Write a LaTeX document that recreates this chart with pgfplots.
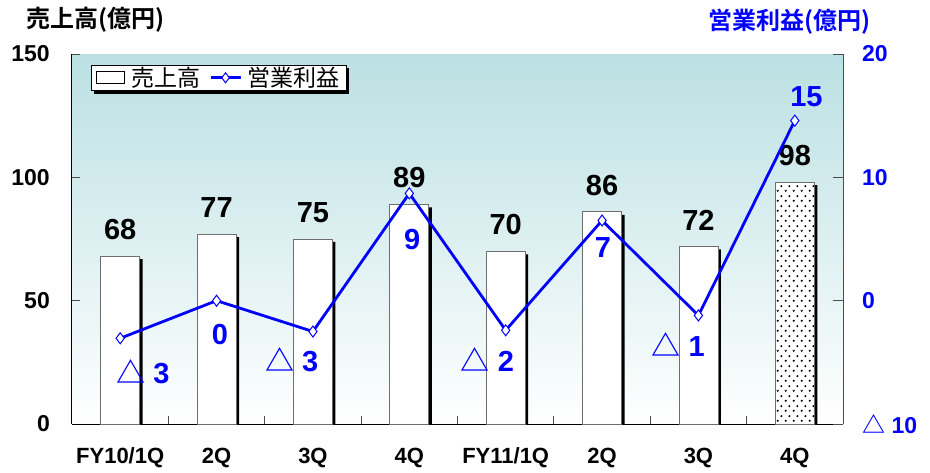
\documentclass[border=0pt]{standalone}
\usepackage{fontspec}
\setmainfont{Liberation Sans}
\newfontfamily\jp{Noto Sans CJK JP}[BoldFont={Noto Sans CJK JP Bold}]
\usepackage{pgfplots}
\pgfplotsset{compat=1.18}
\usetikzlibrary{patterns}

\definecolor{profblue}{RGB}{0,0,255}
\definecolor{bgteal}{RGB}{187,224,227}
\definecolor{bargray}{RGB}{110,110,110}

% staggered dots for the last bar
\pgfdeclarepatternformonly{bardots}{\pgfqpoint{0pt}{0pt}}{\pgfqpoint{8pt}{10pt}}{\pgfqpoint{8pt}{10pt}}{%
  \pgfpathcircle{\pgfqpoint{2pt}{2.5pt}}{1.25pt}%
  \pgfpathcircle{\pgfqpoint{6pt}{7.5pt}}{1.25pt}%
  \pgfusepath{fill}}

\newcommand{\tri}{{\jp △}}
\newcommand{\bignum}{\fontsize{29}{30}\selectfont\bfseries}

\begin{document}
\begin{tikzpicture}
\path[use as bounding box] (-72pt,-48pt) rectangle (858pt,424pt);

% sales (left axis)
\begin{axis}[
    at={(0pt,0pt)}, anchor=south west,
    scale only axis,
    width=771pt, height=370pt,
    xmin=-0.5, xmax=7.5,
    ymin=0, ymax=150,
    axis x line*=bottom,
    axis y line*=left,
    axis line style={line width=1pt},
    axis background/.style={top color=bgteal, bottom color=white},
    tick align=inside,
    major tick length=8pt,
    minor tick length=8pt,
    xtick={0,...,7},
    xticklabels={FY10/1Q,2Q,3Q,4Q,FY11/1Q,2Q,3Q,4Q},
    major x tick style={draw=none},
    minor xtick={0.5,1.5,...,6.5},
    minor x tick style={line width=0.8pt, black!70},
    xticklabel style={font=\fontsize{22}{24}\selectfont\bfseries, inner sep=0pt, anchor=center, yshift=-34pt},
    ytick={0,50,100,150},
    yticklabels={0,50,100,150},
    ytick style={line width=0.8pt, black!70},
    yticklabel style={font=\fontsize{23}{24}\selectfont\bfseries, inner sep=0pt, anchor=east, xshift=-22pt},
    legend columns=2,
    legend cell align=left,
    legend style={name=leg, at={(0.0246,0.9703)}, anchor=north west,
        draw=black, fill=white, line width=0.8pt,
        font=\jp\fontsize{23}{25}\selectfont,
        inner xsep=5pt, inner ysep=1pt,
        nodes={inner sep=1pt},
        /tikz/every odd column/.append style={column sep=5pt},
        /tikz/every even column/.append style={column sep=8pt}},
    clip=false,
]
% legend entries
\addlegendimage{legend image code/.code={%
    \draw[black, fill=white, line width=0.8pt] (0pt,-6pt) rectangle (28pt,6pt);}}
\addlegendentry{売上高}
\addlegendimage{legend image code/.code={%
    \draw[profblue, line width=2.8pt] (0pt,0pt) -- (30pt,0pt);
    \draw[profblue, line width=1pt, fill=white] plot[mark=diamond*, mark size=5pt] coordinates {(15pt,0pt)};}}
\addlegendentry{営業利益}

% bar shadows
\addplot[ybar, bar width=39pt, bar shift=3pt, fill=black, draw=none, forget plot]
    coordinates {(0,66.8) (1,75.8) (2,73.8) (3,87.8) (4,68.8) (5,84.8) (6,70.8) (7,96.8)};
% bars
\addplot[ybar, bar width=39pt, bar shift=0pt, fill=white, draw=bargray, line width=0.8pt, forget plot,
    nodes near coords={\pgfmathprintnumber[assume math mode=true]{\pgfplotspointmeta}},
    every node near coord/.append style={font=\bignum, black, inner sep=0pt, anchor=south, yshift=16pt}]
    coordinates {(0,68) (1,77) (2,75) (3,89) (4,70) (5,86) (6,72) (7,98)};
% dotted last bar
\addplot[ybar, bar width=39pt, bar shift=0pt, draw=bargray, line width=0.8pt, pattern=bardots, pattern color=black, forget plot]
    coordinates {(7,98)};

\node[font=\jp\fontsize{24}{26}\selectfont\bfseries, anchor=center] at (axis cs:-0.26,150) [yshift=34pt] {売上高(億円)};
\end{axis}

% legend shadow (right and bottom strips)
\fill[black] ([yshift=-3pt]leg.north east) rectangle ([xshift=3pt,yshift=-3pt]leg.south east);
\fill[black] ([xshift=3pt]leg.south west) rectangle ([xshift=3pt,yshift=-3pt]leg.south east);

% operating profit (right axis)
\begin{axis}[
    at={(0pt,0pt)}, anchor=south west,
    scale only axis,
    width=771pt, height=370pt,
    xmin=-0.5, xmax=7.5,
    ymin=-10, ymax=20,
    axis x line=none,
    axis y line*=right,
    axis line style={line width=1pt, black!70},
    tick align=inside,
    major tick length=10pt,
    ytick={-10,0,10,20},
    yticklabels={{\tri\ 10},0,10,20},
    ytick style={line width=0.8pt, black!70},
    yticklabel style={font=\fontsize{23}{24}\selectfont\bfseries, text=profblue, inner sep=0pt, anchor=west, xshift=19pt},
    clip=false,
]
\addplot[profblue, line width=2.8pt, mark=diamond*, mark size=5.5pt,
    mark options={fill=white, line width=1pt}]
    coordinates {(0,-3.05) (1,0) (2,-2.5) (3,8.7) (4,-2.4) (5,6.5) (6,-1.2) (7,14.6)};

\begin{scope}[every node/.style={font=\bignum, text=profblue, inner sep=0pt}]
\node at (axis cs:0.237,-5.78) {\tri\ 3};
\node at (axis cs:1.036,-2.78) {0};
\node at (axis cs:1.78,-4.81) {\tri\ 3};
\node at (axis cs:3.03,4.92) {9};
\node at (axis cs:3.81,-4.81) {\tri\ 2};
\node at (axis cs:5.01,4.27) {7};
\node at (axis cs:5.79,-3.59) {\tri\ 1};
\node at (axis cs:7.12,16.52) {15};
\end{scope}

\node[font=\jp\fontsize{24}{26}\selectfont\bfseries, text=profblue, anchor=center] at (axis cs:6.95,20) [yshift=32pt] {営業利益(億円)};
\end{axis}
\end{tikzpicture}
\end{document}
